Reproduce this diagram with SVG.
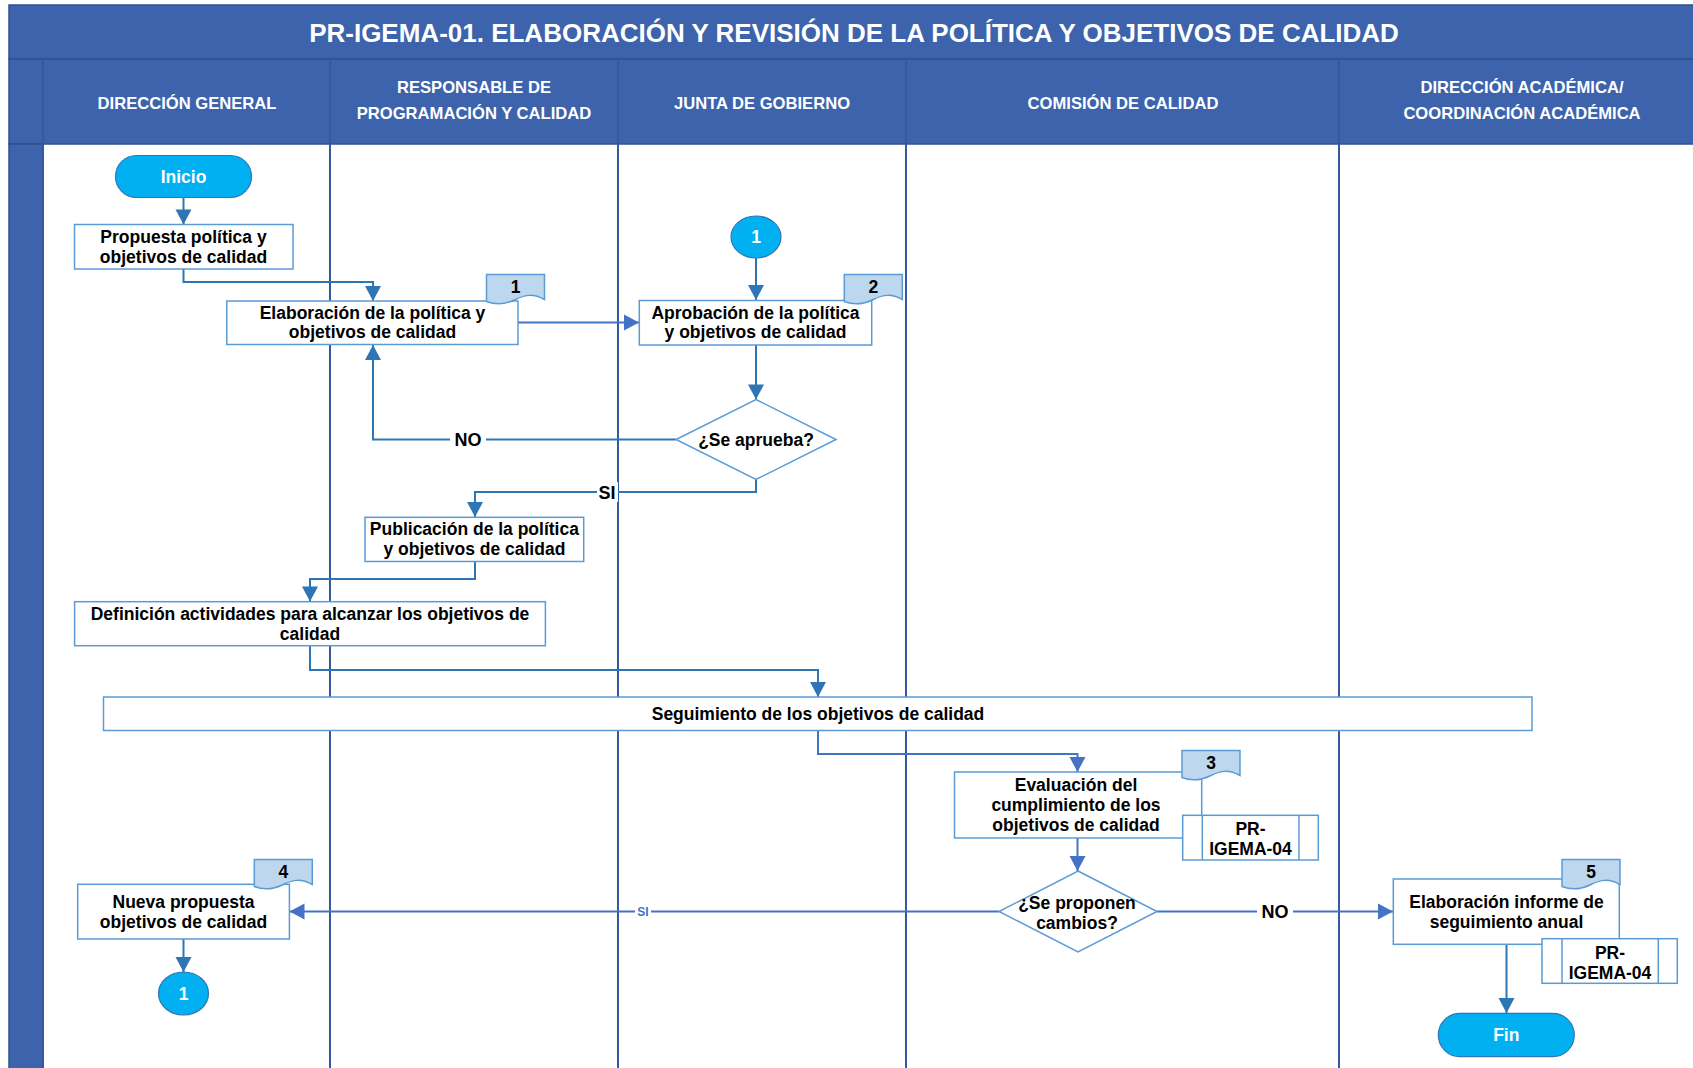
<svg xmlns="http://www.w3.org/2000/svg" width="1693" height="1068" viewBox="0 0 1693 1068">
<defs>
<style>
.band{fill:#3D63AD;stroke:#2F528F;stroke-width:1.5}
.lane{stroke:#3558A0;stroke-width:2;fill:none}
.title{font-family:"Liberation Sans",Arial,sans-serif;font-weight:bold;font-size:26px;fill:#FFFFFF}
.hdr{font-family:"Liberation Sans",Arial,sans-serif;font-weight:bold;font-size:16.6px;fill:#FFFFFF}
.box{fill:#FFFFFF;stroke:#5B9BD5;stroke-width:1.5}
.tab{fill:#BDD7EE;stroke:#5B9BD5;stroke-width:1.5}
.term{fill:#00B0F0;stroke:#2E75B6;stroke-width:1.2}
.t{font-family:"Liberation Sans",Arial,sans-serif;font-weight:bold;font-size:17.5px;fill:#000000;text-anchor:middle;dominant-baseline:central}
.tw{font-family:"Liberation Sans",Arial,sans-serif;font-weight:bold;font-size:17.5px;fill:#FFFFFF;text-anchor:middle;dominant-baseline:central}
.lbl{font-family:"Liberation Sans",Arial,sans-serif;font-weight:bold;font-size:18px;fill:#000000;text-anchor:middle;dominant-baseline:central}
.lblb{font-family:"Liberation Sans",Arial,sans-serif;font-weight:bold;font-size:12px;fill:#4472C4;text-anchor:middle;dominant-baseline:central}
.c1{fill:none;stroke:#2E75B6;stroke-width:2;marker-end:url(#a1)}
.c2{fill:none;stroke:#4472C4;stroke-width:2;marker-end:url(#a2)}
</style>
<marker id="a1" markerUnits="userSpaceOnUse" markerWidth="18" markerHeight="18" viewBox="0 0 18 18" refX="17" refY="9" orient="auto"><path d="M2,1 L17,9 L2,17 Z" fill="#2E75B6"/></marker>
<marker id="a2" markerUnits="userSpaceOnUse" markerWidth="18" markerHeight="18" viewBox="0 0 18 18" refX="17" refY="9" orient="auto"><path d="M2,1 L17,9 L2,17 Z" fill="#4472C4"/></marker>
<path id="tabshape" d="M0,0 H58 V25 C47,19 39,20 29,25 C19,30 10,31 0,27 Z"/>
</defs>
<rect width="1693" height="1068" fill="#FFFFFF"/>

<g id="frame">
<rect class="band" x="9" y="5" width="1690" height="54"/>
<rect class="band" x="9" y="59" width="1690" height="85"/>
<rect class="band" x="9" y="144" width="34" height="930"/>
<line class="lane" x1="43" y1="59" x2="43" y2="1068"/>
<line class="lane" x1="330" y1="59" x2="330" y2="1068"/>
<line class="lane" x1="618" y1="59" x2="618" y2="1068"/>
<line class="lane" x1="906" y1="59" x2="906" y2="1068"/>
<line class="lane" x1="1339" y1="59" x2="1339" y2="1068"/>
<text class="title" x="854" y="33" text-anchor="middle" dominant-baseline="central">PR-IGEMA-01. ELABORACIÓN Y REVISIÓN DE LA POLÍTICA Y OBJETIVOS DE CALIDAD</text>
<text class="hdr" x="187" y="103" text-anchor="middle" dominant-baseline="central">DIRECCIÓN GENERAL</text>
<text class="hdr" x="474" y="87" text-anchor="middle" dominant-baseline="central">RESPONSABLE DE</text>
<text class="hdr" x="474" y="113" text-anchor="middle" dominant-baseline="central">PROGRAMACIÓN Y CALIDAD</text>
<text class="hdr" x="762" y="103" text-anchor="middle" dominant-baseline="central">JUNTA DE GOBIERNO</text>
<text class="hdr" x="1123" y="103" text-anchor="middle" dominant-baseline="central">COMISIÓN DE CALIDAD</text>
<text class="hdr" x="1522" y="87" text-anchor="middle" dominant-baseline="central">DIRECCIÓN ACADÉMICA/</text>
<text class="hdr" x="1522" y="113" text-anchor="middle" dominant-baseline="central">COORDINACIÓN ACADÉMICA</text>
</g>

<g id="connectors">
<path class="c1" d="M183.5,198 V224.5"/>
<path class="c1" d="M183.5,269 V282 H373 V301"/>
<path class="c2" d="M518,322.5 H639"/>
<path class="c1" d="M756,258 V300"/>
<path class="c1" d="M756,345 V399.5"/>
<path class="c1" d="M676,439.5 H373 V345"/>
<path class="c1" d="M756,479.5 V492 H475 V517"/>
<path class="c1" d="M475,561.5 V579 H310 V601.5"/>
<path class="c1" d="M310,645.7 V670 H818 V697"/>
<path class="c2" d="M818,730.5 V754 H1077.5 V772"/>
<path class="c2" d="M1077.5,838 V871"/>
<path class="c2" d="M999,911.5 H289.5"/>
<path class="c2" d="M1157,911.5 H1393"/>
<path class="c1" d="M183.5,939 V972"/>
<path class="c1" d="M1506.5,944.5 V1013"/>
<rect x="450" y="430" width="36" height="20" fill="#FFFFFF"/>
<text class="lbl" x="468" y="440">NO</text>
<rect x="597" y="482" width="21" height="20" fill="#FFFFFF"/>
<text class="lbl" x="607" y="493">SI</text>
<rect x="635" y="904" width="16" height="15" fill="#FFFFFF"/>
<text class="lblb" x="643" y="912">SI</text>
<rect x="1257" y="902" width="36" height="20" fill="#FFFFFF"/>
<text class="lbl" x="1275" y="912">NO</text>
</g>

<g id="inicio">
<rect class="term" x="115.5" y="155.5" width="136" height="42" rx="21"/>
<text class="tw" x="183.5" y="176.5">Inicio</text>
</g>

<g id="propuesta">
<rect class="box" x="74.5" y="224.5" width="218.5" height="44.5"/>
<text class="t" x="183.5" y="237">Propuesta política y</text>
<text class="t" x="183.5" y="257">objetivos de calidad</text>
</g>

<g id="elaboracion">
<rect class="box" x="226.8" y="301" width="291.2" height="43.5"/>
<use href="#tabshape" class="tab" x="486.5" y="274.5"/>
<text class="t" x="515.5" y="287">1</text>
<text class="t" x="372.5" y="312.5">Elaboración de la política y</text>
<text class="t" x="372.5" y="332">objetivos de calidad</text>
</g>

<g id="conector1-junta">
<ellipse class="term" cx="756" cy="237" rx="25" ry="21"/>
<text class="tw" x="756" y="237" font-size="18">1</text>
</g>

<g id="aprobacion">
<rect class="box" x="639.3" y="300.5" width="232.4" height="44.5"/>
<use href="#tabshape" class="tab" x="844.3" y="274.5"/>
<text class="t" x="873.3" y="287">2</text>
<text class="t" x="755.5" y="312.5">Aprobación de la política</text>
<text class="t" x="755.5" y="332">y objetivos de calidad</text>
</g>

<g id="se-aprueba">
<path class="box" d="M756,399.5 L836,439.5 L756,479.5 L676,439.5 Z"/>
<text class="t" x="756" y="439.5">¿Se aprueba?</text>
</g>

<g id="publicacion">
<rect class="box" x="365" y="517.3" width="218.7" height="44.2"/>
<text class="t" x="474.4" y="529">Publicación de la política</text>
<text class="t" x="474.4" y="549">y objetivos de calidad</text>
</g>

<g id="definicion">
<rect class="box" x="74.6" y="601.7" width="470.8" height="44"/>
<text class="t" x="310" y="614">Definición actividades para alcanzar los objetivos de</text>
<text class="t" x="310" y="634">calidad</text>
</g>

<g id="seguimiento">
<rect class="box" x="103.5" y="697" width="1428.5" height="33.5"/>
<text class="t" x="818" y="713.5">Seguimiento de los objetivos de calidad</text>
</g>

<g id="evaluacion">
<rect class="box" x="954.5" y="772" width="247.2" height="66"/>
<use href="#tabshape" class="tab" x="1182" y="750.5"/>
<text class="t" x="1211" y="763">3</text>
<text class="t" x="1076" y="785">Evaluación del</text>
<text class="t" x="1076" y="805">cumplimiento de los</text>
<text class="t" x="1076" y="825">objetivos de calidad</text>
<rect class="box" x="1182.7" y="815.3" width="135.6" height="44.7"/>
<line x1="1202.3" y1="815.3" x2="1202.3" y2="860" stroke="#5B9BD5" stroke-width="1.5"/>
<line x1="1299" y1="815.3" x2="1299" y2="860" stroke="#5B9BD5" stroke-width="1.5"/>
<text class="t" x="1250.5" y="829">PR-</text>
<text class="t" x="1250.5" y="848.5">IGEMA-04</text>
</g>

<g id="se-proponen-cambios">
<path class="box" d="M1078,871 L1157,911.5 L1078,952 L999,911.5 Z"/>
<text class="t" x="1077" y="902.5">¿Se proponen</text>
<text class="t" x="1077" y="922.5">cambios?</text>
</g>

<g id="nueva-propuesta">
<rect class="box" x="77.7" y="884.3" width="211.7" height="54.7"/>
<use href="#tabshape" class="tab" x="254.3" y="859.5"/>
<text class="t" x="283.3" y="872">4</text>
<text class="t" x="183.5" y="902">Nueva propuesta</text>
<text class="t" x="183.5" y="922">objetivos de calidad</text>
</g>

<g id="conector1-direccion">
<ellipse class="term" cx="183.5" cy="993.5" rx="25" ry="21.5"/>
<text class="tw" x="183.5" y="993.5" font-size="18">1</text>
</g>

<g id="informe">
<rect class="box" x="1393.3" y="879" width="226" height="65.3"/>
<use href="#tabshape" class="tab" x="1562" y="859.5"/>
<text class="t" x="1591" y="872">5</text>
<text class="t" x="1506.5" y="902">Elaboración informe de</text>
<text class="t" x="1506.5" y="922">seguimiento anual</text>
<rect class="box" x="1542" y="938.7" width="135.3" height="44.6"/>
<line x1="1562" y1="938.7" x2="1562" y2="983.3" stroke="#5B9BD5" stroke-width="1.5"/>
<line x1="1658.3" y1="938.7" x2="1658.3" y2="983.3" stroke="#5B9BD5" stroke-width="1.5"/>
<text class="t" x="1610" y="953">PR-</text>
<text class="t" x="1610" y="972.5">IGEMA-04</text>
</g>

<g id="fin">
<rect class="term" x="1438.3" y="1013.3" width="136" height="43.4" rx="21.7"/>
<text class="tw" x="1506.3" y="1035">Fin</text>
</g>
</svg>
